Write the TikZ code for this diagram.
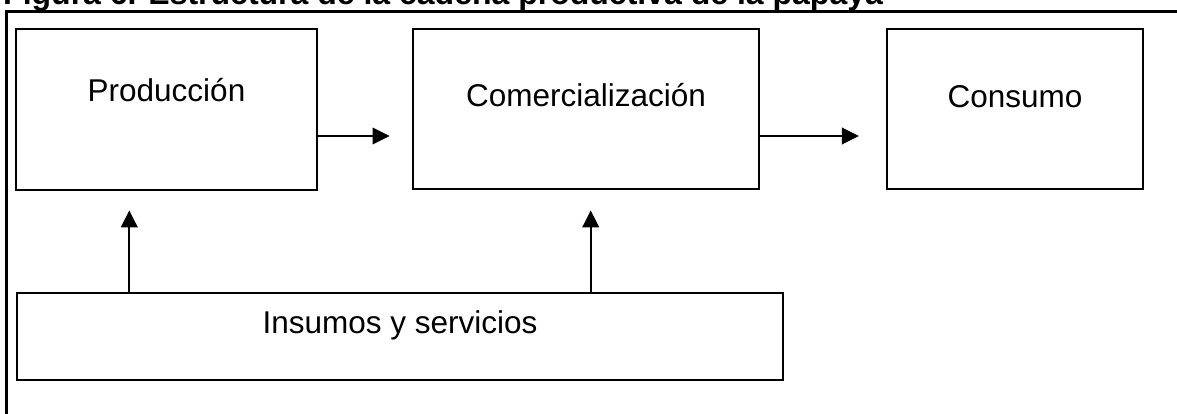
\documentclass[tikz,border=0pt]{standalone}
\usepackage{fontspec}
\setmainfont{Liberation Sans}
\usepackage{tikz}
\usetikzlibrary{arrows.meta}
\tikzset{
caja/.style={
  draw,
  rectangle,
  line width=2.2pt,
  font=\fontsize{31.5}{38}\selectfont,
  text height=23pt
},
flecha/.style={
  line width=2.2pt,
  -{Triangle[length=17pt,width=16.5pt]}
},
}

\begin{document}
\begin{tikzpicture}[x=1pt,y=-1pt]
\useasboundingbox (0,0) rectangle (1177,414);
% the title and the frame
\node[anchor=base west,inner sep=0pt,font=\bfseries\fontsize{32}{38}\selectfont] (titulo) at (3,5) {Figura 6. Estructura de la cadena productiva de la papaya};
\draw[line width=2.2pt] (1180,11.5) -- (6.5,11.5) -- (6.5,418);
% the boxes
\node[caja,minimum width=301pt,minimum height=161pt,text depth=38pt] (prod) at (166.5,109.5) {Producción};
\node[caja,minimum width=346pt,minimum height=160pt,text depth=27pt] (com) at (586,109) {Comercialización};
\node[caja,minimum width=256pt,minimum height=160pt,text depth=25pt] (cons) at (1015,109) {Consumo};
\node[caja,minimum width=766pt,minimum height=87pt,text depth=29.4pt] (ins) at (400,336.5) {Insumos y servicios};
% the arrows
\coordinate (pa) at ([xshift=-37.2pt]prod.south);
\coordinate (ca) at ([xshift=4.7pt]com.south);
\begin{scope}[flecha]
\draw[shorten >=22.3pt] ([yshift=-26.5pt]prod.east) -- ([yshift=-27pt]com.west);
\draw[shorten >=27pt] ([yshift=-27pt]com.east) -- ([yshift=-27pt]cons.west);
\draw[shorten >=19.3pt] (pa |- ins.north) -- (pa);
\draw[shorten >=20.3pt] (ca |- ins.north) -- (ca);
\end{scope}
\end{tikzpicture}
\end{document}
